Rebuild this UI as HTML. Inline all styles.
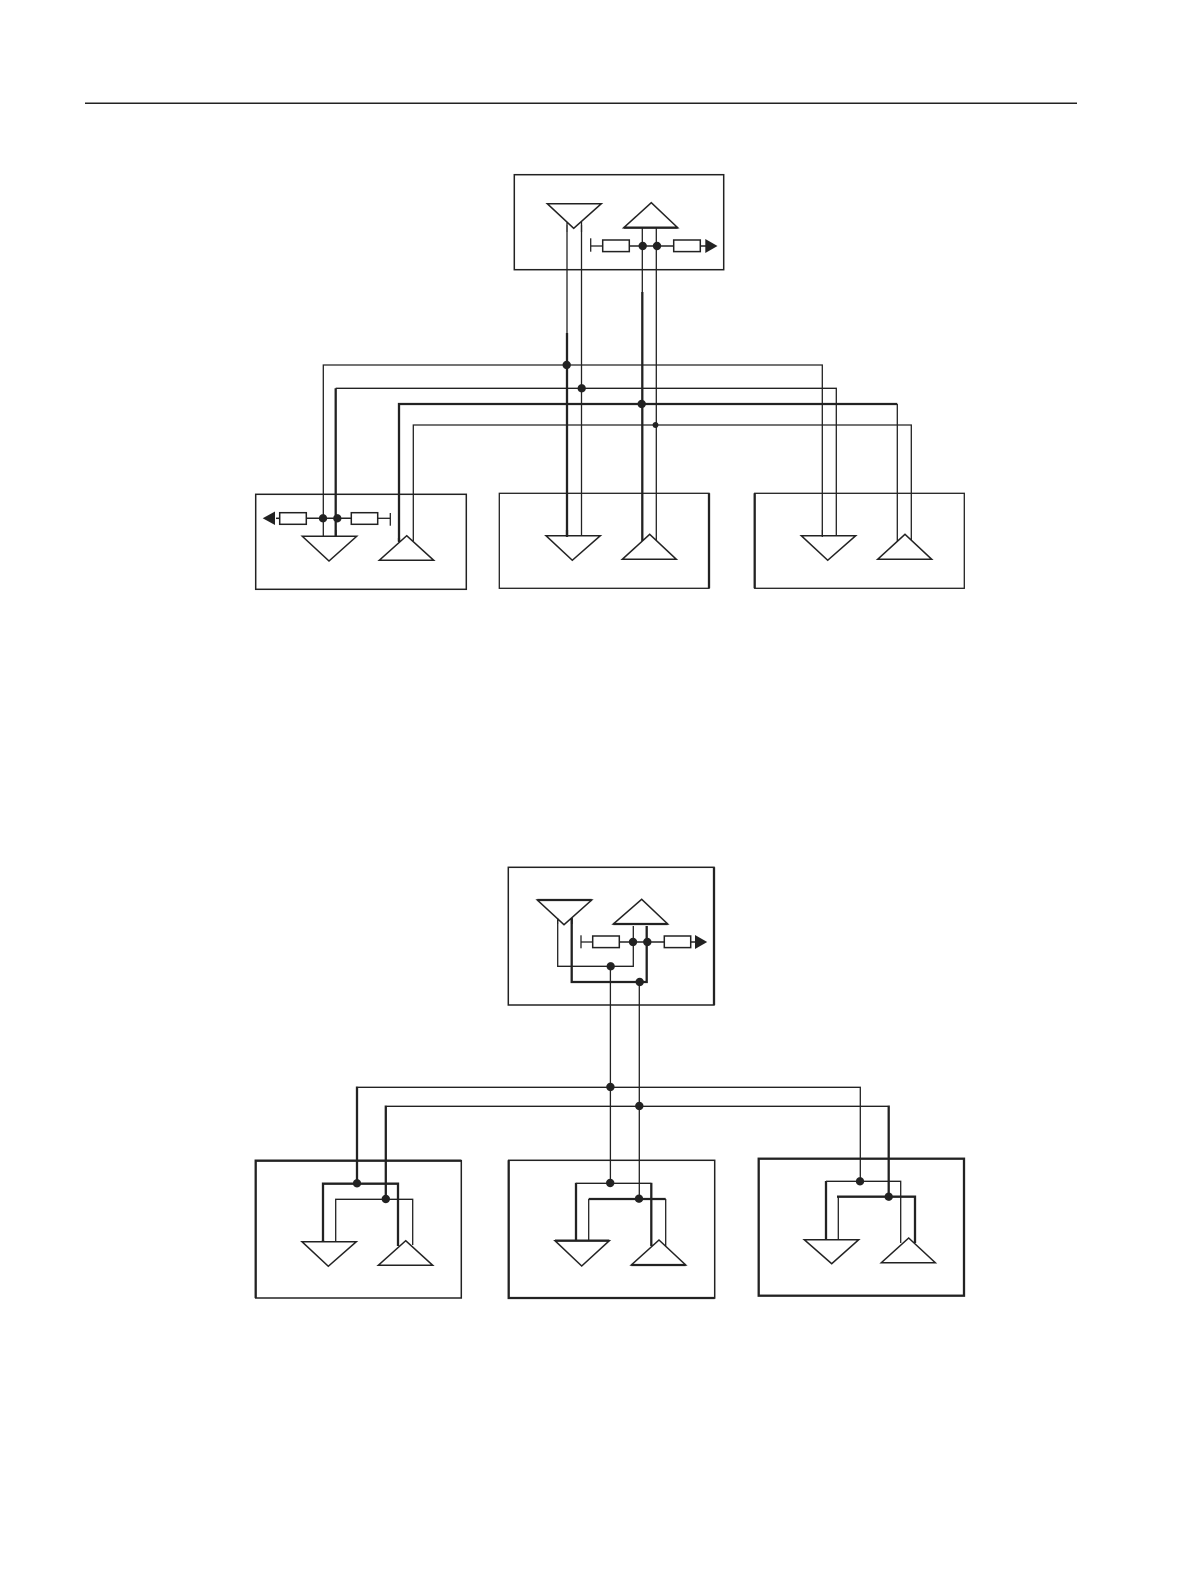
<!DOCTYPE html>
<html>
<head>
<meta charset="utf-8">
<style>
html,body{margin:0;padding:0;background:#fff;}
svg{display:block;}
.t{stroke:#222;stroke-width:1.3;fill:none;}
.m{stroke:#222;stroke-width:1.5;fill:none;}
.k{stroke:#222;stroke-width:2.3;fill:none;}
.tri{stroke:#222;stroke-width:1.5;fill:#fff;stroke-linejoin:miter;}
.r{stroke:#222;stroke-width:1.5;fill:#fff;}
.d{fill:#222;}
</style>
</head>
<body>
<svg width="1191" height="1587" viewBox="0 0 1191 1587" xmlns="http://www.w3.org/2000/svg">
<rect width="1191" height="1587" fill="#fff"/>
<line class="m" x1="85" y1="103.3" x2="1077" y2="103.3"/>

<!-- TOP DIAGRAM -->
<rect class="m" x="514.3" y="174.7" width="209.4" height="95"/>
<rect class="m" x="255.7" y="494.3" width="210.6" height="95"/>
<rect class="t" x="499.3" y="493.3" width="209.7" height="95"/>
<rect class="t" x="754.7" y="493.3" width="209.6" height="95"/>
<line class="k" x1="709" y1="493.3" x2="709" y2="588.3"/>
<line class="k" x1="754.7" y1="493.3" x2="754.7" y2="588.3"/>

<!-- buses -->
<path class="t" d="M323.3 536V365H822.3V536"/>
<path class="t" d="M335.7 388.3H836.3V536"/>
<path class="k" d="M335.7 536V388.3"/>
<path class="k" d="M399 541V404H897.3"/>
<path class="t" d="M897.3 404V543"/>
<path class="t" d="M413.3 541V425H911.3V543"/>

<!-- verticals -->
<line class="t" x1="567" y1="225" x2="567" y2="333"/>
<line class="k" x1="567" y1="333" x2="567" y2="537"/>
<line class="t" x1="581.5" y1="225" x2="581.5" y2="536"/>
<line class="t" x1="642.3" y1="228" x2="642.3" y2="295"/>
<line class="k" x1="642.3" y1="292" x2="642.3" y2="541"/>
<line class="t" x1="656.3" y1="228" x2="656.3" y2="541"/>

<!-- top box parts -->
<polygon class="tri" points="547.3,203.7 601.3,203.7 573.7,228.3"/>
<line class="t" x1="567" y1="222" x2="567" y2="232"/>
<line class="t" x1="581.5" y1="222" x2="581.5" y2="232"/>
<polygon class="tri" points="651.3,202.7 677.7,227.7 623.7,227.7"/>
<line class="k" x1="623.7" y1="227.7" x2="677.7" y2="227.7"/>
<line class="t" x1="590.7" y1="238.3" x2="590.7" y2="251.7"/>
<line class="t" x1="590.7" y1="246" x2="603" y2="246"/>
<line class="m" x1="629" y1="246" x2="674" y2="246"/>
<rect class="r" x="602.7" y="240" width="26.6" height="11.6"/>
<rect class="r" x="673.7" y="240" width="26.6" height="11.6"/>
<line class="m" x1="700" y1="246" x2="706" y2="246"/>
<polygon class="d" points="705.3,239 717.5,246 705.3,253"/>
<circle class="d" cx="642.7" cy="246" r="4.2"/>
<circle class="d" cx="657" cy="246" r="4.2"/>

<!-- bottom left box parts -->
<polygon class="tri" points="302.3,536.3 356.7,536.3 329,561"/>
<polygon class="tri" points="406.7,535.7 433.7,560.3 379.3,560.3"/>
<line class="k" x1="335.7" y1="530" x2="335.7" y2="537"/>
<line class="k" x1="399" y1="538" x2="399" y2="542"/>
<line class="m" x1="276" y1="518.3" x2="280" y2="518.3"/>
<line class="m" x1="306" y1="518.3" x2="352" y2="518.3"/>
<line class="t" x1="377.7" y1="518.3" x2="390.3" y2="518.3"/>
<line class="t" x1="390.3" y1="513" x2="390.3" y2="525.7"/>
<rect class="r" x="279.7" y="512.7" width="26.6" height="11.6"/>
<rect class="r" x="351.3" y="512.7" width="26.4" height="11.6"/>
<polygon class="d" points="275,511.5 262.7,518.3 275,525"/>
<circle class="d" cx="323" cy="518.3" r="4.2"/>
<circle class="d" cx="337.3" cy="518.3" r="4.2"/>

<!-- bottom middle box parts -->
<polygon class="tri" points="546,535.7 600.3,535.7 572.3,560.3"/>
<polygon class="tri" points="649.7,534.3 676.3,559.3 622.3,559.3"/>
<line class="k" x1="567" y1="530" x2="567" y2="537"/>

<!-- bottom right box parts -->
<polygon class="tri" points="801.3,535.7 855.7,535.7 827.7,560.3"/>
<polygon class="tri" points="905,534.3 931.7,559.3 877.7,559.3"/>
<line class="t" x1="822.3" y1="530" x2="822.3" y2="537"/>

<!-- bus dots -->
<circle class="d" cx="566.7" cy="365" r="4.2"/>
<circle class="d" cx="581.7" cy="388.3" r="4.2"/>
<circle class="d" cx="641.7" cy="404" r="4.2"/>
<circle class="d" cx="655.5" cy="425" r="3"/>

<!-- LOWER DIAGRAM -->
<rect class="m" x="508.3" y="867.3" width="205.7" height="137.7"/>
<line class="k" x1="714" y1="867.3" x2="714" y2="1005"/>
<rect class="m" x="255.7" y="1160.7" width="205.6" height="137.3"/>
<path class="k" d="M255.7 1298V1160.7H461.3"/>
<rect class="m" x="508.7" y="1160.3" width="206" height="137.7"/>
<path class="k" d="M508.7 1160.3V1298H714.7"/>
<rect class="k" x="758.7" y="1158.7" width="205.3" height="137"/>

<!-- top lower box -->
<path class="t" d="M557.7 920V966.3H633.3V926"/>
<path class="k" d="M571.7 918V982H646.7V926"/>
<polygon class="tri" points="537.3,900 591.7,900 564,924.7"/>
<line class="k" x1="537.3" y1="900" x2="591.7" y2="900"/>
<line class="t" x1="557.7" y1="918" x2="557.7" y2="924"/>
<line class="k" x1="571.7" y1="918" x2="571.7" y2="924"/>
<polygon class="tri" points="641.7,899.3 667.7,924 613.3,924"/>
<line class="k" x1="613.3" y1="924" x2="667.7" y2="924"/>
<line class="t" x1="581" y1="935.3" x2="581" y2="948.3"/>
<line class="t" x1="581" y1="942" x2="593" y2="942"/>
<line class="m" x1="619" y1="942" x2="665" y2="942"/>
<rect class="r" x="592.7" y="936" width="26.6" height="11.6"/>
<rect class="r" x="664.3" y="936" width="26.4" height="11.6"/>
<line class="m" x1="690" y1="942" x2="696" y2="942"/>
<polygon class="d" points="695,935 707.2,942 695,949"/>
<circle class="d" cx="633" cy="942" r="4.2"/>
<circle class="d" cx="647.3" cy="942" r="4.2"/>
<circle class="d" cx="610.7" cy="966.3" r="4.2"/>
<circle class="d" cx="639.7" cy="982" r="4.2"/>

<!-- lower bus -->
<path class="t" d="M357 1087.3H860.3V1181.3"/>
<path class="t" d="M386 1106.3H888.7"/>
<line class="k" x1="357" y1="1086.5" x2="357" y2="1183.7"/>
<line class="k" x1="385.8" y1="1105.5" x2="385.8" y2="1199"/>
<line class="k" x1="888.7" y1="1105.5" x2="888.7" y2="1196.7"/>
<line class="t" x1="610.4" y1="966.3" x2="610.4" y2="1183.3"/>
<line class="t" x1="639.3" y1="982" x2="639.3" y2="1199"/>
<circle class="d" cx="610.4" cy="1087" r="4.2"/>
<circle class="d" cx="639.3" cy="1106" r="4.2"/>

<!-- lower left box -->
<path class="k" d="M323 1242V1183.7H398V1246"/>
<path class="t" d="M335.7 1241V1199.3H412.7V1245"/>
<polygon class="tri" points="302,1241.7 356.3,1241.7 328.3,1266.3"/>
<polygon class="tri" points="405.7,1240.7 432.7,1265.3 378.3,1265.3"/>
<line class="k" x1="323" y1="1240" x2="323" y2="1242.5"/>
<circle class="d" cx="357" cy="1183.3" r="4.2"/>
<circle class="d" cx="385.8" cy="1199" r="4.2"/>

<!-- lower middle box -->
<path class="t" d="M576 1183.3H651.3"/>
<line class="k" x1="576" y1="1182.8" x2="576" y2="1241"/>
<line class="k" x1="651.3" y1="1182.8" x2="651.3" y2="1246"/>
<path class="k" d="M588.7 1199H665.7"/>
<line class="t" x1="588.7" y1="1199" x2="588.7" y2="1241"/>
<line class="t" x1="665.7" y1="1199" x2="665.7" y2="1246"/>
<polygon class="tri" points="555,1240.7 609.3,1240.7 581.7,1266"/>
<line class="k" x1="555" y1="1240.7" x2="609.3" y2="1240.7"/>
<polygon class="tri" points="659,1240 685.7,1265 631.3,1265"/>
<line class="k" x1="631.3" y1="1265" x2="685.7" y2="1265"/>
<circle class="d" cx="610.2" cy="1183" r="4.2"/>
<circle class="d" cx="639" cy="1198.7" r="4.2"/>

<!-- lower right box -->
<path class="t" d="M826 1181.3H900.7V1243"/>
<line class="k" x1="826" y1="1181" x2="826" y2="1240"/>
<path class="k" d="M837 1196.7H915V1243"/>
<line class="t" x1="838.3" y1="1196.7" x2="838.3" y2="1240"/>
<polygon class="tri" points="804.3,1239.7 858.7,1239.7 831.7,1263.7"/>
<polygon class="tri" points="908.7,1238 935.3,1262.7 881.3,1262.7"/>
<circle class="d" cx="860" cy="1181.3" r="4.2"/>
<circle class="d" cx="888.7" cy="1196.7" r="4.2"/>
</svg>
</body>
</html>
